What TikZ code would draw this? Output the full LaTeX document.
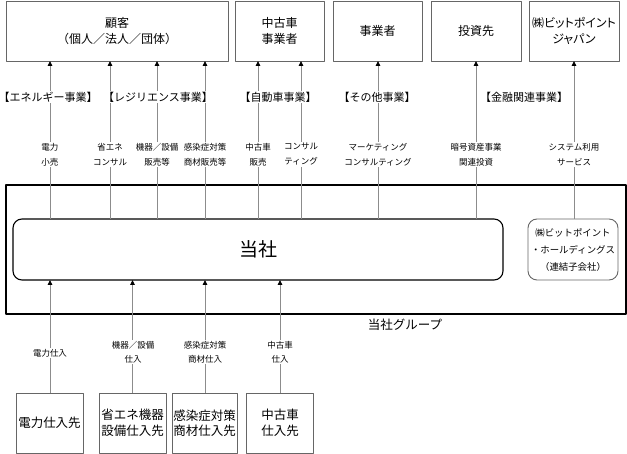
\documentclass[tikz,border=0pt]{standalone}
\usepackage{fontspec}
\setmainfont{Noto Sans CJK JP}
\usetikzlibrary{arrows.meta}
\tikzset{
  box/.style={draw=black!60, line width=0.9pt, minimum height=60pt, inner sep=0pt, outer sep=0pt, align=center},
  topbox/.style={box, font=\fontsize{12}{16}\selectfont},
  botbox/.style={box, minimum width=67pt, font=\fontsize{12.5}{15.5}\selectfont},
  arr/.style={draw=black!45, line width=0.9pt, -{Triangle[length=5pt,width=4.5pt,black]}},
  biz/.style={fill=white, inner sep=1pt, font=\fontsize{11}{12}\selectfont},
  flow/.style={fill=white, inner sep=1pt, align=center, font=\fontsize{8.5}{15}\selectfont},
  inflow/.style={flow, font=\fontsize{8.5}{14.3}\selectfont}
}
\begin{document}
\begin{tikzpicture}[x=1pt, y=-1pt, line join=round]
  \useasboundingbox (0,0) rectangle (627,454);
  % customers and partners
  \node[topbox, minimum width=222pt] (kokyaku) at (117,31) {顧客\\（個人／法人／団体）};
  \node[topbox, minimum width=89pt] (chuko) at (279.5,31) {中古車\\事業者};
  \node[topbox, minimum width=89pt] (jigyo) at (377.5,31) {事業者};
  \node[topbox, minimum width=90pt] (toshi) at (476,31) {投資先};
  \node[topbox, minimum width=90pt] (bpj) at (574,31) {\addfontfeature{RawFeature=+palt}㈱ビットポイント\\\addfontfeature{RawFeature=+palt}ジャパン};
  % group
  \node[draw, line width=1.3pt, minimum width=620pt, minimum height=129pt, outer sep=0pt] (grp) at (316,249.5) {};
  \node[font=\fontsize{12.5}{14}\selectfont] (grpname) at (405,325) {当社グループ};
  \node[draw, line width=1.1pt, rounded corners=9pt, minimum width=490pt, minimum height=61pt, outer sep=0pt, font=\fontsize{19}{20}\selectfont] (tosha) at (258,249.5) {当社};
  \node[draw=black!60, line width=0.9pt, rounded corners=9pt, minimum width=90pt, minimum height=61pt, inner sep=0pt, outer sep=0pt, align=center, font=\fontsize{9.4}{17}\selectfont] (bph) at (573,249.5) {㈱ビットポイント\\・ホールディングス\\（連結子会社）};
  % suppliers
  \node[botbox] (s1) at (49.5,423) {電力仕入先};
  \node[botbox] (s2) at (132.5,423) {省エネ機器\\設備仕入先};
  \node[botbox, minimum width=65pt] (s3) at (204.5,423) {感染症対策\\商材仕入先};
  \node[botbox] (s4) at (280,423) {中古車\\仕入先};
  % connectors
  \foreach \n/\x in {a/50,b/110,c/157,d/205,e/258,f/301,g/378,h/476}
    \coordinate (\n) at (\x,0);
  \draw[arr] (tosha.north -| a) -- (kokyaku.south -| a);
  \draw[arr] (tosha.north -| b) -- (kokyaku.south -| b);
  \draw[arr] (tosha.north -| c) -- (kokyaku.south -| c);
  \draw[arr] (tosha.north -| d) -- (kokyaku.south -| d);
  \draw[arr] (tosha.north -| e) -- (chuko.south -| e);
  \draw[arr] (tosha.north -| f) -- (chuko.south -| f);
  \draw[arr] (tosha.north -| g) -- (jigyo.south -| g);
  \draw[arr] (tosha.north -| h) -- (toshi.south -| h);
  \draw[arr] (bph.north -| bpj.south) -- (bpj.south);
  \draw[arr] (s1.north -| a) -- (tosha.south -| a);
  \draw[arr] (s2.north) -- (tosha.south -| s2.north);
  \draw[arr] (s3.north -| d) -- (tosha.south -| d);
  \draw[arr] (s4.north) -- (tosha.south -| s4.north);
  % segments
  \node[biz] (seg1) at (48,97) {【エネルギー事業】};
  \node[biz] (seg2) at (158,97) {【レジリエンス事業】};
  \node[biz] (seg3) at (278,97) {【自動車事業】};
  \node[biz] (seg4) at (377,97) {【その他事業】};
  \node[biz] (seg5) at (524,97) {【金融関連事業】};
  % flows
  \node[flow] (f1) at (50,154.5) {電力\\小売};
  \node[flow] (f2) at (110,154.5) {省エネ\\コンサル};
  \node[flow] (f3) at (157,154.5) {機器／設備\\販売等};
  \node[flow] (f4) at (205,154.5) {感染症対策\\商材販売等};
  \node[flow] (f5) at (258,154.5) {中古車\\販売};
  \node[flow] (f6) at (301,154.5) {コンサル\\ティング};
  \node[flow] (f7) at (378,154.5) {マーケティング\\コンサルティング};
  \node[flow] (f8) at (476,154.5) {暗号資産事業\\関連投資};
  \node[flow] (f9) at (574,154.5) {システム利用\\サービス};
  \node[flow] (p1) at (50,353) {電力仕入};
  \node[inflow] (p2) at (133,352) {機器／設備\\仕入};
  \node[inflow] (p3) at (205,352) {感染症対策\\商材仕入};
  \node[inflow] (p4) at (280,352) {中古車\\仕入};
\end{tikzpicture}
\end{document}
